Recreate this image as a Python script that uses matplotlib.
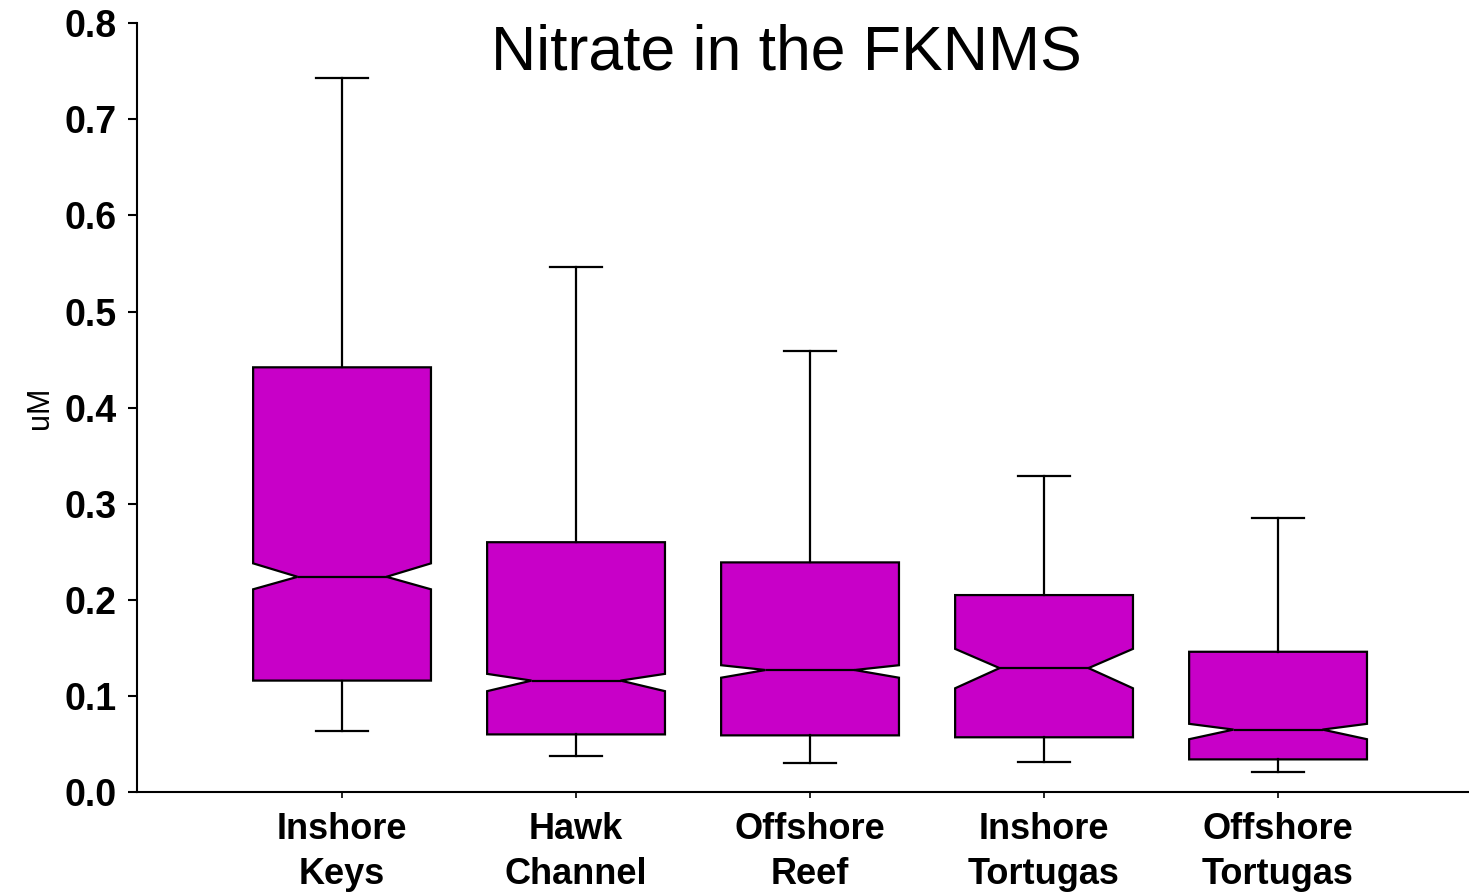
import numpy as np
import matplotlib
matplotlib.use('Agg')
import matplotlib.pyplot as plt

plt.rcParams['font.family'] = ['Liberation Sans', 'DejaVu Sans']

# 各站点的箱线图统计量 (uM)
labels = ['Inshore\nKeys', 'Hawk\nChannel', 'Offshore\nReef', 'Inshore\nTortugas', 'Offshore\nTortugas']
whislo = [0.064, 0.0375, 0.030, 0.031, 0.021]
q1 = [0.116, 0.060, 0.059, 0.057, 0.034]
med = [0.224, 0.116, 0.127, 0.129, 0.065]
q3 = [0.442, 0.260, 0.239, 0.205, 0.146]
whishi = [0.743, 0.546, 0.459, 0.329, 0.285]
cilo = [0.211, 0.105, 0.119, 0.108, 0.055]
cihi = [0.238, 0.123, 0.132, 0.149, 0.071]

stats = []
for i in range(len(labels)):
    stats.append(dict(label=labels[i], whislo=whislo[i], q1=q1[i], med=med[i],
                      q3=q3[i], whishi=whishi[i], cilo=cilo[i], cihi=cihi[i], fliers=[]))

fig = plt.figure(figsize=(14.69, 8.96), dpi=100)
ax = fig.add_axes([0.0933, 0.116, 0.9067, 0.858])

pos = np.arange(1, len(labels) + 1)
ax.bxp(stats, positions=pos, widths=0.76, capwidths=0.22, shownotches=True,
       patch_artist=True, showfliers=False,
       boxprops=dict(facecolor='#C800C8', edgecolor='black', linewidth=1.6),
       medianprops=dict(color='black', linewidth=1.6),
       whiskerprops=dict(color='black', linewidth=1.6),
       capprops=dict(color='black', linewidth=1.6))

ax.set_xlim(0.124, 5.816)
ax.set_ylim(0, 0.8)
ax.set_yticks(np.arange(0, 0.81, 0.1))
ax.set_yticklabels([f'{v:.1f}' for v in np.arange(0, 0.81, 0.1)], fontsize=27, fontweight='bold')
ax.set_xticks(pos)
ax.set_xticklabels(labels, fontsize=26, fontweight='bold', linespacing=1.4)

ax.spines['top'].set_visible(False)
ax.spines['right'].set_visible(False)
ax.spines['left'].set_linewidth(1.5)
ax.spines['bottom'].set_linewidth(1.5)
ax.tick_params(axis='y', length=6.5, width=1.5, pad=8)
ax.tick_params(axis='x', length=4, width=1.2, pad=10)

ax.set_ylabel('uM', fontsize=22, labelpad=7)
fig.text(0.535, 0.941, 'Nitrate in the FKNMS', fontsize=45, ha='center', va='center')

fig.savefig('out.png', dpi=100)
